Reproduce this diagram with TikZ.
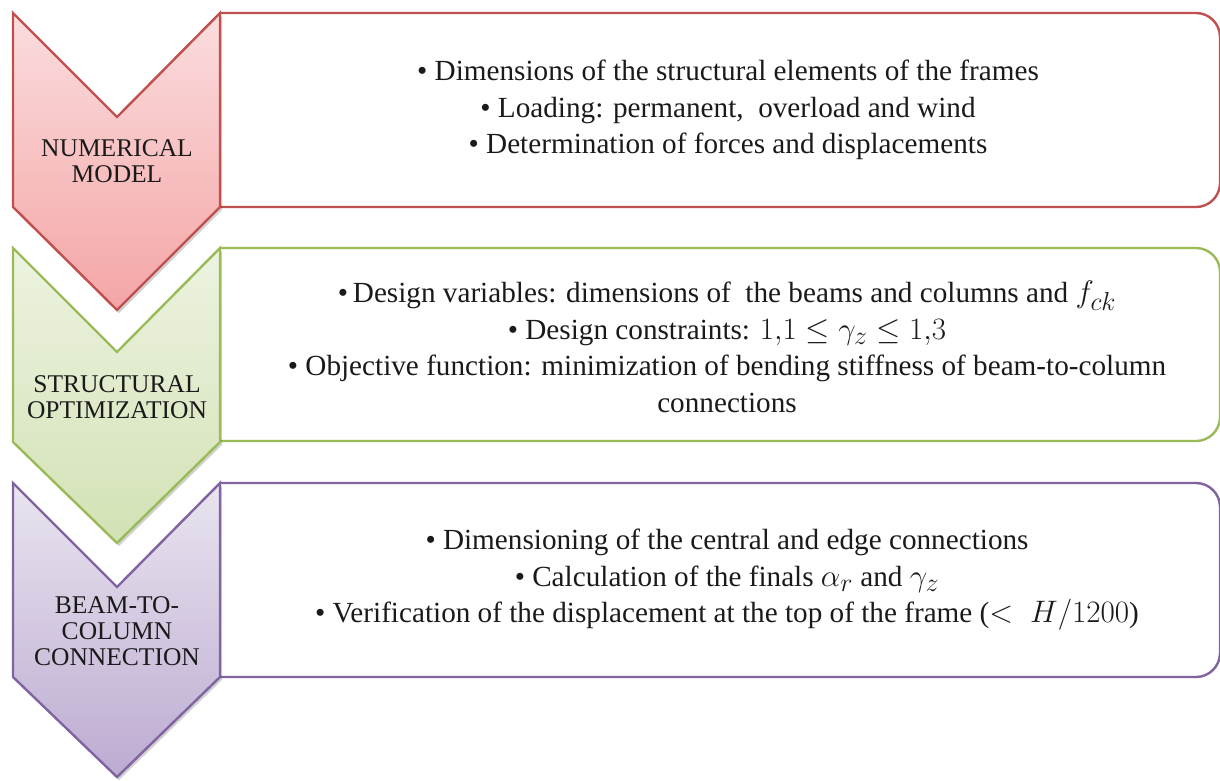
\documentclass[tikz,border=0pt]{standalone}
\usepackage{graphicx}
\usepackage{fontspec}
\setmainfont{Liberation Serif}
\usetikzlibrary{shadows}
\definecolor{redline}{HTML}{C0504D}
\definecolor{redtop}{HTML}{FBDDDE}
\definecolor{redbot}{HTML}{F4A5A6}
\definecolor{greenline}{HTML}{9BBB59}
\definecolor{greentop}{HTML}{EDF3E1}
\definecolor{greenbot}{HTML}{D3E2B5}
\definecolor{purpleline}{HTML}{8064A2}
\definecolor{purpletop}{HTML}{EAE5F0}
\definecolor{purplebot}{HTML}{BCABD1}
\definecolor{txt}{HTML}{1A1A1A}
\newcommand\mymath[1]{\scalebox{1.25}{$#1$}}
\begin{document}
\begin{tikzpicture}[x=1pt,y=-1pt,
  boxline/.style={line width=2.4pt, rounded corners=24pt},
  chev/.style={line width=2.4pt, line join=miter,
    drop shadow={shadow xshift=2pt, shadow yshift=-3pt, opacity=0.18, fill=black}},
  labeltext/.style={text=txt, align=center, font=\fontsize{25.5}{26}\selectfont, inner sep=0pt},
  bodytext/.style={text=txt, align=center, font=\fontsize{29.2}{36.5}\selectfont, inner sep=0pt}]
\useasboundingbox (0,0) rectangle (1220,780);

% boxes
\draw[boxline, redline] (220,13) -- (1220,13) -- (1220,207) -- (220,207);
\draw[boxline, greenline] (220,248) -- (1220,248) -- (1220,441) -- (220,441);
\draw[boxline, purpleline] (220,483) -- (1220,483) -- (1220,677) -- (220,677);

% chevrons
\path[chev, draw=redline, top color=redtop, bottom color=redbot]
  (13,13) -- (117,117) -- (220,13) -- (220,207) -- (117,310) -- (13,207) -- cycle;
\path[chev, draw=greenline, top color=greentop, bottom color=greenbot]
  (13,248) -- (117,352) -- (220,248) -- (220,442) -- (117,543) -- (13,442) -- cycle;
\path[chev, draw=purpleline, top color=purpletop, bottom color=purplebot]
  (13,483) -- (117,587) -- (220,483) -- (220,677) -- (117,777) -- (13,677) -- cycle;

% labels
\node[labeltext] (l1) at (117,161) {NUMERICAL\\MODEL};
\node[labeltext] (l2) at (117,397) {STRUCTURAL\\OPTIMIZATION};
\node[labeltext] (l3) at (117,631) {BEAM-TO-\\COLUMN\\CONNECTION};

% body texts
\node[bodytext] (t1) at (728,110) {\textbullet\ Dimensions of the structural elements of the frames\\
  \textbullet\ Loading: permanent,\ \ overload and wind\\
  \textbullet\ Determination of forces and displacements};
\node[bodytext] (t2) at (727,347) {\textbullet\,Design variables: dimensions of\ \ the beams and columns and \mymath{f_{ck}}\\
  \textbullet\ Design constraints: \mymath{1{,}1 \le \gamma_z \le 1{,}3}\\
  \textbullet\ Objective function: minimization of bending stiffness of beam-to-column\\
  connections};
\node[bodytext] (t3) at (727,580) {\textbullet\ Dimensioning of the central and edge connections\\
  \textbullet\ Calculation of the finals \mymath{\alpha_r} and \mymath{\gamma_z}\\
  \textbullet\ Verification of the displacement at the top of the frame (\mymath{<\;H/1200})};
\end{tikzpicture}
\end{document}
